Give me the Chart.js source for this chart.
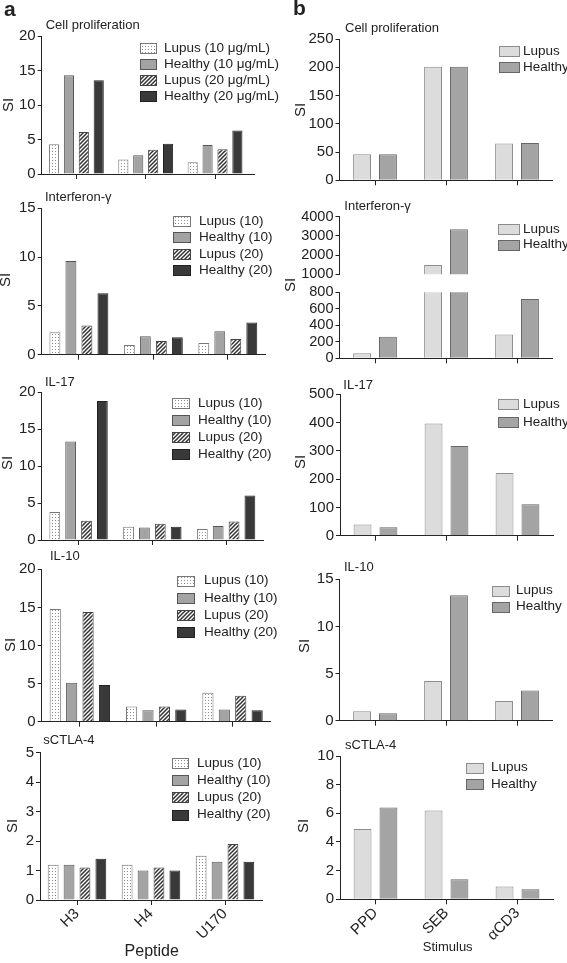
<!DOCTYPE html>
<html>
<head>
<meta charset="utf-8">
<script src="https://cdn.jsdelivr.net/npm/chart.js@4.4.1/dist/chart.umd.min.js"></script>
<style>
  html, body { margin: 0; padding: 0; background: #fff; }
  #wrap { position: relative; width: 567px; height: 963px; overflow: hidden; }
  #wrap canvas { position: absolute; left: 0; top: 0; }
</style>
</head>
<body>
<div id="wrap"></div>
<script>
// categories
const peptides = ['H3', 'H4', 'U170'];
const stimuli = ['PPD', 'SEB', 'αCD3'];

// panel a - peptides (H3, H4, U170)
const cellLupus10 = [4.3, 2.1, 1.7];
const cellHealthy10 = [14.3, 2.7, 4.2];
const cellLupus20 = [6.1, 3.5, 3.6];
const cellHealthy20 = [13.6, 4.4, 6.3];

const ifnLupus10 = [2.3, 1.0, 1.2];
const ifnHealthy10 = [9.6, 1.9, 2.4];
const ifnLupus20 = [3.0, 1.4, 1.6];
const ifnHealthy20 = [6.3, 1.8, 3.3];

const il17Lupus10 = [3.8, 1.8, 1.5];
const il17Healthy10 = [13.3, 1.7, 1.9];
const il17Lupus20 = [2.6, 2.2, 2.5];
const il17Healthy20 = [18.8, 1.8, 6.0];

const il10Lupus10 = [14.8, 2.0, 3.8];
const il10Healthy10 = [5.1, 1.5, 1.6];
const il10Lupus20 = [14.4, 2.0, 3.4];
const il10Healthy20 = [4.8, 1.6, 1.5];

const ctlaLupus10 = [1.2, 1.2, 1.5];
const ctlaHealthy10 = [1.2, 1.0, 1.3];
const ctlaLupus20 = [1.1, 1.1, 1.9];
const ctlaHealthy20 = [1.4, 1.0, 1.3];

// panel b - stimuli (PPD, SEB, aCD3)
const cellLupusStim = [46, 201, 65];
const cellHealthyStim = [46, 201, 66];
const ifnLupusStim = [60, 1480, 290];
const ifnHealthyStim = [260, 3340, 720];
const il17LupusStim = [40, 397, 222];
const il17HealthyStim = [30, 317, 111];
const il10LupusStim = [1.0, 4.2, 2.1];
const il10HealthyStim = [0.8, 13.3, 3.2];
const ctlaLupusStim = [4.9, 6.2, 0.9];
const ctlaHealthyStim = [6.4, 1.4, 0.7];

// legend names
const namesUg = ['Lupus (10 μg/mL)', 'Healthy (10 μg/mL)', 'Lupus (20 μg/mL)', 'Healthy (20 μg/mL)'];
const namesShort = ['Lupus (10)', 'Healthy (10)', 'Lupus (20)', 'Healthy (20)'];
const namesStim = ['Lupus', 'Healthy'];

const FAM = '"Liberation Sans", Arial, Helvetica, sans-serif';
const INK = '#222';
Chart.defaults.font.family = FAM;
Chart.defaults.color = INK;

function makePattern(kind) {
	var p = document.createElement('canvas');
	var c = p.getContext('2d');
	if (kind == 'dots') {
		p.width = 3; p.height = 3;
		c.fillStyle = '#fff'; c.fillRect(0, 0, 3, 3);
		c.fillStyle = '#8e8e8e'; c.fillRect(1, 1, 1, 1);
	} else {
		p.width = 4; p.height = 4;
		c.fillStyle = '#fff'; c.fillRect(0, 0, 4, 4);
		c.strokeStyle = '#333'; c.lineWidth = 1.5;
		c.beginPath();
		c.moveTo(-1, 5); c.lineTo(5, -1);
		c.moveTo(-1, 1); c.lineTo(1, -1);
		c.moveTo(3, 5); c.lineTo(5, 3);
		c.stroke();
	}
	return c.createPattern(p, 'repeat');
}

const styleA = [
	{ bg: makePattern('dots'), border: '#777' },
	{ bg: '#a3a3a3', border: '#555' },
	{ bg: makePattern('hatch'), border: '#444' },
	{ bg: '#393939', border: '#222' }
];
const styleB = [
	{ bg: '#dcdcdc', border: '#8c8c8c' },
	{ bg: '#a4a4a4', border: '#666' }
];

function drawExtras(chart, cfg) {
	var ctx = chart.ctx;
	var area = chart.chartArea;
	ctx.save();
	ctx.fillStyle = INK;
	ctx.textBaseline = 'middle';
	if (cfg.letter) {
		ctx.font = 'bold 21px ' + FAM;
		ctx.textAlign = 'left';
		ctx.textBaseline = 'alphabetic';
		ctx.fillText(cfg.letter[0], cfg.letter[1], cfg.letter[2]);
		ctx.textBaseline = 'middle';
	}
	if (cfg.title) {
		ctx.font = '13px ' + FAM;
		ctx.textAlign = 'left';
		ctx.fillText(cfg.title[0], cfg.title[1], cfg.title[2]);
	}
	if (cfg.si) {
		ctx.save();
		ctx.translate(cfg.si[0], cfg.si[1]);
		ctx.rotate(-Math.PI / 2);
		ctx.font = '15px ' + FAM;
		ctx.textAlign = 'center';
		ctx.fillText('SI', 0, 0);
		ctx.restore();
	}
	if (cfg.xTitle) {
		ctx.font = cfg.xTitle[3] + 'px ' + FAM;
		ctx.textAlign = 'center';
		ctx.fillText(cfg.xTitle[0], cfg.xTitle[1], cfg.xTitle[2]);
	}
	if (cfg.axisEnd) {
		ctx.strokeStyle = INK;
		ctx.lineWidth = 1;
		ctx.beginPath();
		ctx.moveTo(area.right, Math.round(area.bottom) + 0.5);
		ctx.lineTo(cfg.axisEnd, Math.round(area.bottom) + 0.5);
		ctx.stroke();
	}
	if (cfg.legend) {
		var L = cfg.legend;
		ctx.font = '13.5px ' + FAM;
		ctx.textAlign = 'left';
		chart.data.datasets.forEach(function(ds, i) {
			var y = L.y + i * L.dy;
			var top = Math.round(y - L.h / 2) + 0.5;
			var left = Math.round(L.x) + 0.5;
			ctx.fillStyle = ds.backgroundColor;
			ctx.fillRect(left, top, L.w, L.h);
			ctx.strokeStyle = ds.borderColor;
			ctx.lineWidth = 1;
			ctx.strokeRect(left, top, L.w, L.h);
			ctx.fillStyle = INK;
			ctx.fillText(ds.label, L.tx, y);
		});
	}
	ctx.restore();
}

var chartCount = 0;
function makeChart(cfg) {
	var wrap = document.getElementById('wrap');
	var canvas = document.createElement('canvas');
	canvas.width = 567;
	canvas.height = 963;
	wrap.appendChild(canvas);
	var l = cfg.area[0], t = cfg.area[1], r = cfg.area[2], b = cfg.area[3];
	var isA = cfg.kind == 'a';
	var styles = isA ? styleA : styleB;
	var YW = 40;
	var XH = cfg.xLabels ? 45 : 8;
	var showX = cfg.showX !== false;
	chartCount++;
	return new Chart(canvas, {
		type: 'bar',
		data: {
			labels: cfg.labels,
			datasets: cfg.sets.map(function(vals, i) {
				return {
					label: cfg.names[i],
					data: vals,
					backgroundColor: styles[i].bg,
					borderColor: styles[i].border,
					borderWidth: 1,
					borderSkipped: 'start',
					categoryPercentage: isA ? 0.86 : 0.73,
					barPercentage: isA ? 0.68 : 0.69,
					clip: 0
				};
			})
		},
		plugins: [{
			id: 'extras' + chartCount,
			afterDraw: function(chart) { drawExtras(chart, cfg); }
		}],
		options: {
			responsive: false,
			animation: false,
			devicePixelRatio: 1,
			events: [],
			layout: {
				padding: {
					left: l - YW,
					top: t,
					right: 567 - r,
					bottom: showX ? 963 - b - XH : 963 - b
				}
			},
			plugins: {
				legend: { display: false },
				tooltip: { enabled: false }
			},
			scales: {
				x: {
					display: showX,
					grid: {
						display: true,
						drawOnChartArea: false,
						offset: false,
						tickLength: 5,
						color: INK
					},
					border: { color: INK, width: 1 },
					ticks: {
						display: !!cfg.xLabels,
						minRotation: 45,
						maxRotation: 45,
						padding: 0,
						font: { size: 15 },
						color: INK
					},
					afterFit: function(s) { s.height = XH; }
				},
				y: {
					min: cfg.y[0],
					max: cfg.y[1],
					grid: {
						drawOnChartArea: false,
						tickLength: 4,
						color: INK
					},
					border: { color: INK, width: 1 },
					ticks: {
						stepSize: cfg.y[2],
						autoSkip: false,
						padding: 2,
						font: { size: cfg.tickSize || 15 },
						color: INK,
						callback: function(v) { return String(v); }
					},
					afterFit: function(s) { s.width = YW; }
				}
			}
		}
	});
}

// ---- column a ----
makeChart({
	kind: 'a', labels: peptides, names: namesUg,
	sets: [cellLupus10, cellHealthy10, cellLupus20, cellHealthy20],
	area: [41.7, 36, 249.7, 174], y: [0, 20, 5],
	letter: ['a', 4, 16],
	title: ['Cell proliferation', 45.7, 25],
	si: [9, 105],
	legend: { x: 140, tx: 164, y: 48, dy: 16.1, w: 16, h: 10 },
	axisEnd: 255
});
makeChart({
	kind: 'a', labels: peptides, names: namesShort,
	sets: [ifnLupus10, ifnHealthy10, ifnLupus20, ifnHealthy20],
	area: [41.7, 208.3, 265, 354.7], y: [0, 15, 5],
	title: ['Interferon-γ', 45, 197.3],
	si: [6, 280],
	legend: { x: 173, tx: 199, y: 221, dy: 16.4, w: 17, h: 10 }
});
makeChart({
	kind: 'a', labels: peptides, names: namesShort,
	sets: [il17Lupus10, il17Healthy10, il17Lupus20, il17Healthy20],
	area: [41.7, 392, 263, 540], y: [0, 20, 5],
	title: ['IL-17', 45, 382.7],
	si: [8.3, 463],
	legend: { x: 172, tx: 198, y: 403, dy: 17.1, w: 17, h: 10 }
});
makeChart({
	kind: 'a', labels: peptides, names: namesShort,
	sets: [il10Lupus10, il10Healthy10, il10Lupus20, il10Healthy20],
	area: [41.7, 569.3, 270.7, 721.7], y: [0, 20, 5],
	title: ['IL-10', 50, 556.7],
	si: [11, 645],
	legend: { x: 177, tx: 204, y: 580.7, dy: 17.1, w: 17, h: 10 }
});
makeChart({
	kind: 'a', labels: peptides, names: namesShort,
	sets: [ctlaLupus10, ctlaHealthy10, ctlaLupus20, ctlaHealthy20],
	area: [40, 752.7, 262, 900], y: [0, 5, 1],
	title: ['sCTLA-4', 43.3, 740],
	si: [12.5, 826],
	legend: { x: 172, tx: 197, y: 763, dy: 17.2, w: 16, h: 10 },
	xLabels: true,
	xTitle: ['Peptide', 151.7, 951.7, 16]
});

// ---- column b ----
makeChart({
	kind: 'b', labels: stimuli, names: namesStim,
	sets: [cellLupusStim, cellHealthyStim],
	area: [339.5, 39, 552.5, 180.3], y: [0, 250, 50],
	letter: ['b', 293, 15],
	title: ['Cell proliferation', 345, 28.3],
	si: [300.7, 110],
	legend: { x: 499, tx: 523, y: 51, dy: 16, w: 20, h: 10 }
});
// interferon-gamma: broken axis, two segments
makeChart({
	kind: 'b', labels: stimuli, names: namesStim,
	sets: [ifnLupusStim.map(function(v) { return v > 1000 ? v : null; }),
	       ifnHealthyStim.map(function(v) { return v > 1000 ? v : null; })],
	area: [339.5, 216.5, 552.5, 282.3], y: [1000, 4000, 1000],
	tickSize: 14.5,
	showX: false,
	title: ['Interferon-γ', 344.3, 206.7],
	si: [291, 285],
	legend: { x: 498, tx: 523, y: 229, dy: 15.5, w: 21, h: 10 }
});
makeChart({
	kind: 'b', labels: stimuli, names: namesStim,
	sets: [ifnLupusStim, ifnHealthyStim],
	area: [339.5, 292.3, 552.5, 358.3], y: [0, 800, 200],
	tickSize: 14.5
});
makeChart({
	kind: 'b', labels: stimuli, names: namesStim,
	sets: [il17LupusStim, il17HealthyStim],
	area: [340, 394.3, 553, 535.7], y: [0, 500, 100],
	title: ['IL-17', 343.3, 385],
	si: [300.7, 462],
	legend: { x: 498, tx: 523, y: 404, dy: 18, w: 20, h: 10 }
});
makeChart({
	kind: 'b', labels: stimuli, names: namesStim,
	sets: [il10LupusStim, il10HealthyStim],
	area: [339.5, 579.3, 552.5, 720.7], y: [0, 15, 5],
	title: ['IL-10', 344, 567],
	si: [305, 646],
	legend: { x: 492, tx: 516, y: 590.7, dy: 16, w: 17, h: 10 }
});
makeChart({
	kind: 'b', labels: stimuli, names: namesStim,
	sets: [ctlaLupusStim, ctlaHealthyStim],
	area: [340, 756, 553, 899.3], y: [0, 10, 2],
	title: ['sCTLA-4', 345, 745],
	si: [304, 826],
	legend: { x: 466, tx: 491, y: 767.7, dy: 16.6, w: 17, h: 10 },
	xLabels: true,
	xTitle: ['Stimulus', 447.7, 947.7, 13]
});
</script>
</body>
</html>
